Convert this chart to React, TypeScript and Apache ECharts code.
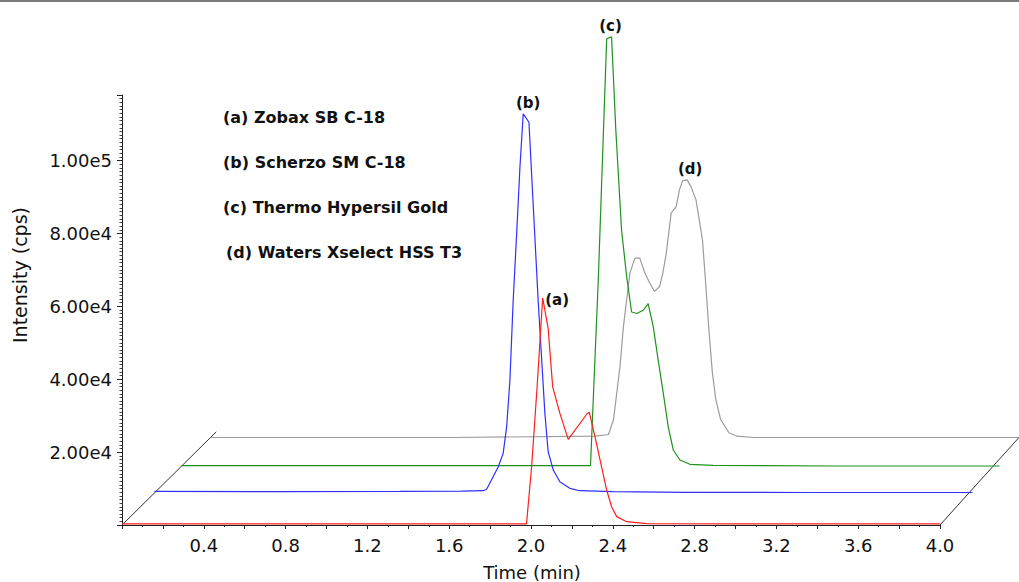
import React, { useEffect, useRef } from "react";
import * as echarts from "echarts";

// ---------------- data ----------------
const seriesNames = [
  "(a) Zobax SB C-18",
  "(b) Scherzo SM C-18",
  "(c) Thermo Hypersil Gold",
  "(d) Waters Xselect HSS T3",
];
const peakLabels = ["(a)", "(b)", "(c)", "(d)"];

// (a) Zobax SB C-18  (time in min, intensity in cps)
const timesA = [0, 0.5, 1.0, 1.5, 1.978, 2.003, 2.03, 2.057, 2.084, 2.106, 2.141, 2.182, 2.275, 2.285, 2.313, 2.37, 2.394, 2.419, 2.468, 2.566, 3.0, 3.5, 4.0];
const valuesA = [300, 300, 300, 300, 300, 15970, 38000, 62300, 53900, 37900, 30700, 23500, 30600, 30900, 24200, 9600, 5000, 2300, 900, 400, 300, 300, 300];

// (b) Scherzo SM C-18
const timesB = [0, 0.6, 1.2, 1.5, 1.607, 1.624, 1.656, 1.681, 1.705, 1.722, 1.738, 1.754, 1.771, 1.787, 1.803, 1.831, 1.876, 1.909, 1.925, 1.95, 1.982, 2.031, 2.08, 2.243, 2.6, 3.2, 4.0];
const valuesB = [300, 250, 300, 350, 490, 880, 4330, 7070, 10740, 18030, 30820, 52740, 71100, 89260, 103900, 101600, 52740, 21700, 11180, 6160, 2960, 1150, 490, 220, 50, 0, 0];

// (c) Thermo Hypersil Gold
const timesC = [0, 0.6, 1.2, 1.8, 2.0, 2.038, 2.079, 2.103, 2.124, 2.152, 2.177, 2.201, 2.226, 2.258, 2.282, 2.307, 2.331, 2.356, 2.38, 2.405, 2.437, 2.486, 2.6, 3.2, 4.0];
const valuesC = [100, 100, 100, 100, 100, 50960, 117200, 117800, 92000, 64660, 51860, 42270, 41840, 42740, 44580, 38160, 29040, 19920, 10770, 4380, 1640, 470, 190, 0, 0];

// (d) Waters Xselect HSS T3
const timesD = [0, 0.6, 1.2, 1.904, 1.969, 1.994, 2.01, 2.026, 2.043, 2.059, 2.075, 2.1, 2.124, 2.149, 2.173, 2.197, 2.222, 2.238, 2.255, 2.279, 2.304, 2.32, 2.336, 2.358, 2.377, 2.402, 2.434, 2.451, 2.467, 2.483, 2.5, 2.524, 2.565, 2.605, 2.687, 3.3, 4.0];
const valuesD = [0, 0, 0, 360, 820, 4930, 12250, 19530, 30490, 37810, 45120, 49230, 49230, 45120, 42380, 40080, 41450, 45120, 50600, 61560, 63370, 67950, 70490, 70690, 68850, 65210, 54250, 41450, 28690, 17730, 10410, 4930, 1290, 360, 0, 0, 0];

const traceTimes = [timesA, timesB, timesC, timesD];
const traceValues = [valuesA, valuesB, valuesC, valuesD];

const X_MIN = 0;
const X_MAX = 4.0;
const X_INTERVAL = 0.2;
const Y_MIN = 0;
const Y_MAX = 118000;
const Y_INTERVAL = 20000;

// ---------------- styling / layout ----------------
const colors = ["#ff1f1f", "#2f2fff", "#1f911f", "#9c9c9c"];
const GRID_LEFT = 122;
const GRID_TOP = 95;
const GRID_W = 818;
const GRID_H = 430;
// pseudo-3D depth offsets (px) of each trace's plane
const depthOffsets = [
  [0, 0],
  [32.5, 32.5],
  [59.5, 59],
  [88.5, 87.5],
];
const labelStyles = [
  { position: "right", distance: 2, offset: [0, 2] },
  { position: "top", distance: 3, offset: [5, 0] },
  { position: "top", distance: 3, offset: [-1, 0] },
  { position: "top", distance: 3, offset: [3, 0] },
];
const FONT = "DejaVu Sans";

export default function App() {
  const ref = useRef<HTMLDivElement>(null);

  useEffect(() => {
    if (!ref.current) return;
    const chart = echarts.init(ref.current, undefined, { renderer: "svg" });

    const grids = depthOffsets.map(([dx, dy]) => ({
      left: GRID_LEFT + dx,
      top: GRID_TOP - dy,
      width: GRID_W,
      height: GRID_H,
    }));

    const xAxes = depthOffsets.map((_, i) =>
      i === 0
        ? {
            type: "value",
            gridIndex: 0,
            min: X_MIN,
            max: X_MAX,
            interval: X_INTERVAL,
            axisLine: { show: true, onZero: false, lineStyle: { color: "#222", width: 1 } },
            axisTick: { show: true, length: 4, lineStyle: { color: "#222" } },
            minorTick: { show: true, splitNumber: 2, length: 2, lineStyle: { color: "#222" } },
            splitLine: { show: false },
            axisLabel: {
              show: true,
              margin: 11,
              fontFamily: FONT,
              fontSize: 18,
              color: "#111",
              formatter: (v: number) => {
                const k = Math.round(v * 10);
                return k > 0 && k % 4 === 0 ? (k / 10).toFixed(1) : "";
              },
            },
          }
        : { type: "value", gridIndex: i, min: X_MIN, max: X_MAX, show: false }
    );

    const yAxes = depthOffsets.map((_, i) =>
      i === 0
        ? {
            type: "value",
            gridIndex: 0,
            min: Y_MIN,
            max: Y_MAX,
            interval: Y_INTERVAL,
            axisLine: { show: true, onZero: false, lineStyle: { color: "#222", width: 1 } },
            axisTick: { show: true, length: 5, lineStyle: { color: "#222" } },
            minorTick: { show: true, splitNumber: 20, length: 2.5, lineStyle: { color: "#444" } },
            splitLine: { show: false },
            axisLabel: {
              show: true,
              margin: 10,
              fontFamily: FONT,
              fontSize: 18,
              color: "#111",
              showMaxLabel: false,
              formatter: (v: number) =>
                v <= 0 || v % Y_INTERVAL !== 0 ? "" : v.toExponential(2).replace("e+", "e"),
            },
          }
        : { type: "value", gridIndex: i, min: Y_MIN, max: Y_MAX, show: false }
    );

    const series = traceTimes
      .map((times, i) => {
        const vals = traceValues[i];
        let pk = 0;
        vals.forEach((v, k) => {
          if (v > vals[pk]) pk = k;
        });
        return {
          type: "line",
          name: seriesNames[i],
          xAxisIndex: i,
          yAxisIndex: i,
          data: times.map((t, k) => [t, vals[k]]),
          symbol: "none",
          showSymbol: false,
          clip: false,
          silent: true,
          z: 10 - i,
          lineStyle: { color: colors[i], width: 1.2 },
          markPoint: {
            symbol: "circle",
            symbolSize: 1,
            silent: true,
            itemStyle: { color: "rgba(0,0,0,0)" },
            label: {
              show: true,
              position: labelStyles[i].position,
              distance: labelStyles[i].distance,
              offset: labelStyles[i].offset,
              formatter: peakLabels[i],
              fontFamily: FONT,
              fontWeight: "bold",
              fontSize: 15,
              color: "#111",
            },
            data: [{ coord: [times[pk], vals[pk]] }],
          },
        };
      })
      .reverse();

    chart.setOption({
      animation: false,
      backgroundColor: "#ffffff",
      grid: grids,
      xAxis: xAxes,
      yAxis: yAxes,
      series,
    });

    // depth (diagonal) axis lines computed from the axes
    const last = depthOffsets.length - 1;
    const ext = 1.065;
    const diag = (x: number) => {
      const p0 = chart.convertToPixel({ xAxisIndex: 0, yAxisIndex: 0 }, [x, 0]) as number[];
      const p1 = chart.convertToPixel({ xAxisIndex: last, yAxisIndex: last }, [x, 0]) as number[];
      return {
        type: "line",
        silent: true,
        z: 5,
        shape: {
          x1: p0[0],
          y1: p0[1],
          x2: p0[0] + (p1[0] - p0[0]) * ext,
          y2: p0[1] + (p1[1] - p0[1]) * ext,
        },
        style: { stroke: "#333", lineWidth: 1 },
      };
    };

    const legendY = [117, 162, 207, 252];
    const legendX = [223, 223, 223, 226];

    chart.setOption({
      graphic: [
        { type: "rect", silent: true, shape: { x: 0, y: 0, width: 1019, height: 2 }, style: { fill: "#7a7a7a" } },
        diag(X_MIN),
        diag(X_MAX),
        ...seriesNames.map((n, i) => ({
          type: "text",
          x: legendX[i],
          y: legendY[i],
          silent: true,
          style: {
            text: n,
            fill: "#111",
            fontFamily: FONT,
            fontWeight: "bold",
            fontSize: 16,
            align: "left",
            verticalAlign: "middle",
          },
        })),
        {
          type: "text",
          x: 20,
          y: 275,
          rotation: Math.PI / 2,
          silent: true,
          style: {
            text: "Intensity (cps)",
            fill: "#111",
            fontFamily: FONT,
            fontSize: 19,
            align: "center",
            verticalAlign: "middle",
          },
        },
        {
          type: "text",
          x: 532,
          y: 572,
          silent: true,
          style: {
            text: "Time (min)",
            fill: "#111",
            fontFamily: FONT,
            fontSize: 18,
            align: "center",
            verticalAlign: "middle",
          },
        },
      ],
    });

    return () => chart.dispose();
  }, []);

  return (
    <div
      ref={ref}
      style={{ position: "fixed", left: 0, top: 0, width: 1019, height: 582, background: "#fff" }}
    />
  );
}
